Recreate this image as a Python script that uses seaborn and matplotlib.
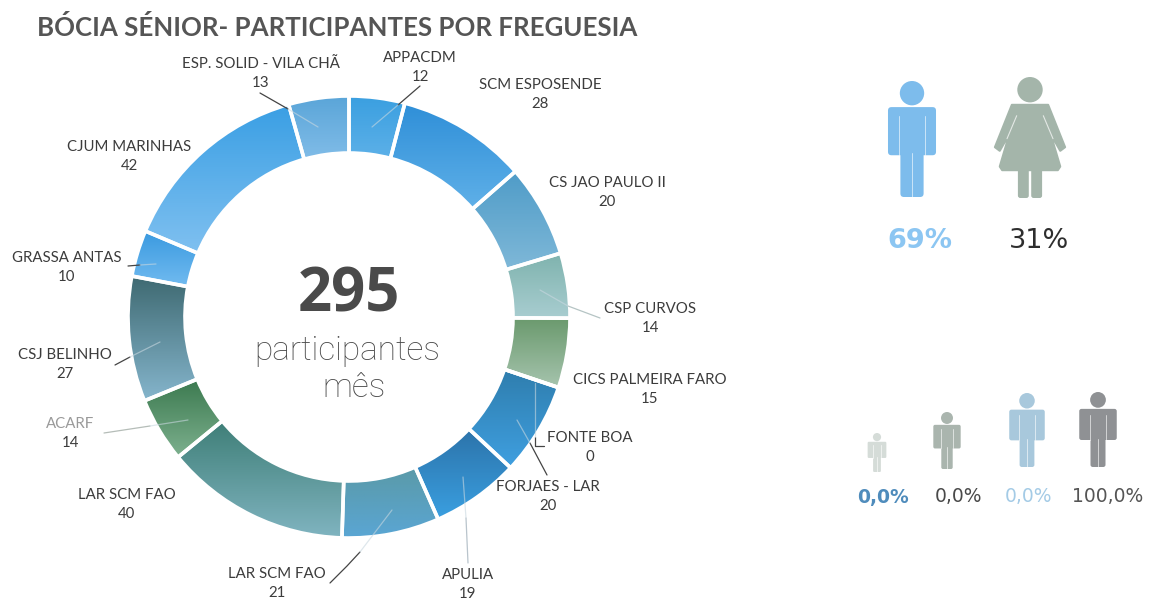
import matplotlib
matplotlib.use("Agg")
import matplotlib.pyplot as plt
from matplotlib.patches import Circle, FancyBboxPatch, Polygon
import numpy as np
import seaborn as sns

W, H = 1149, 599

freguesias = ["APPACDM", "SCM ESPOSENDE", "CS JAO PAULO II", "CSP CURVOS", "CICS PALMEIRA FARO",
              "FONTE BOA", "FORJAES - LAR", "APULIA", "LAR SCM FAO", "LAR SCM FAO",
              "ACARF", "CSJ BELINHO", "GRASSA ANTAS", "CJUM MARINHAS", "ESP. SOLID - VILA CHÃ"]
participantes = [12, 28, 20, 14, 15, 0, 20, 19, 21, 40, 14, 27, 10, 42, 13]
cor_topo = ["#3a9fe0", "#2f8fd8", "#4f9cc8", "#7fb3ae", "#6b9a6e", "#2f7eae", "#2f7eae", "#2c73aa",
            "#5a9aa8", "#3f7f78", "#3c7a50", "#3f6a72", "#3a9ae0", "#3a9fe4", "#5aa5d8"]
cor_base = ["#5cb0e8", "#5fb0e8", "#7fb8d8", "#a8cdd0", "#a6c4ae", "#3f9fe0", "#3f9fe0", "#3a9fe0",
            "#5aa6d4", "#80b4c0", "#7db08e", "#85b5cc", "#72bbf0", "#7fc0f0", "#80bce8"]

genero_pct = ["69%", "31%"]
idade_pct = ["0,0%", "0,0%", "0,0%", "100,0%"]

sns.set_theme(style="white")
plt.rcParams["font.family"] = ["Lato", "DejaVu Sans"]

fig = plt.figure(figsize=(W / 100, H / 100), dpi=100)
ax = fig.add_axes([0, 0, 1, 1])


def py(y):
    return H - y


# donut, each wedge filled with a vertical gradient
wedges, _ = ax.pie(participantes, startangle=90, counterclock=False, center=(349, py(317)), radius=221,
                   wedgeprops=dict(width=57, edgecolor="white", linewidth=2.6))
for w, top, bottom in zip(wedges, cor_topo, cor_base):
    cmap = sns.blend_palette([top, bottom], 32, as_cmap=True)
    box = w.get_path().get_extents(w.get_patch_transform())
    im = ax.imshow(np.linspace(0, 1, 64).reshape(-1, 1), cmap=cmap, aspect="auto", zorder=2,
                   extent=[box.x0, box.x1, box.y0, box.y1], origin="upper")
    im.set_clip_path(w)
    w.set_facecolor("none")
    w.set_zorder(3)

ax.set_xlim(0, W)
ax.set_ylim(0, H)
ax.set_aspect("equal")
ax.axis("off")

# labels: position in reference pixels
label_pos = [(420, 58), (540, 85), (607, 183), (650, 309), (650, 380), (590, 438), (548, 487),
             (468, 575), (277, 574), (127, 495), (70, 424), (65, 355), (67, 258), (129, 147), (261, 64)]
for nome, val, (x, y) in zip(freguesias, participantes, label_pos):
    cor = "#9a9a9a" if nome == "ACARF" else "#3c3c3c"
    ax.text(x, py(y), nome, ha="center", va="center", fontsize=10.8, color=cor, zorder=6)
    ax.text(x, py(y + 19), str(val), ha="center", va="center", fontsize=10.8, color="#3c3c3c", zorder=6)

# leader lines: part over the ring is faded, part outside is dark
leaders = [
    ([(260, 93), (288, 109)], [(288, 109), (318, 127)], "#444444"),
    ([(420, 86), (398, 105)], [(398, 105), (372, 127)], "#444444"),
    ([(600, 318), (568, 306)], [(568, 306), (540, 290)], "#b5c4c4"),
    ([(544, 446), (535, 446), (535, 437)], [(535, 437), (535, 383)], "#444444"),
    ([(547, 475), (530, 443)], [(530, 443), (517, 420)], "#444444"),
    ([(468, 563), (466, 518)], [(466, 518), (463, 477)], "#b9c4cc"),
    ([(330, 583), (347, 566), (360, 552)], [(360, 552), (392, 510)], "#444444"),
    ([(104, 433), (150, 426)], [(150, 426), (188, 420)], "#b5bdb8"),
    ([(115, 365), (130, 357)], [(130, 357), (160, 342)], "#444444"),
    ([(128, 266), (140, 265)], [(140, 265), (156, 264)], "#444444"),
]
for fora, dentro, cor in leaders:
    ax.plot([p[0] for p in fora], [py(p[1]) for p in fora], color=cor, lw=0.9, zorder=5)
    ax.plot([p[0] for p in dentro], [py(p[1]) for p in dentro], color="#c9d8e0", lw=0.9, alpha=0.6, zorder=5)

# title and centre text
ax.text(37, py(28), "BÓCIA SÉNIOR- PARTICIPANTES POR FREGUESIA", ha="left", va="center",
        fontsize=18.6, fontweight="bold", color="#555555")
ax.text(349, py(296), str(sum(participantes)), ha="center", va="center", fontsize=43,
        fontweight="bold", color="#4a4a4a", zorder=6, family="Open Sans")
ax.text(347, py(351), "participantes", ha="center", va="center", fontsize=24, fontweight="light",
        color="#4a4a4a", zorder=6, family="Roboto")
ax.text(354, py(388), "mês", ha="center", va="center", fontsize=24, fontweight="light",
        color="#4a4a4a", zorder=6, family="Roboto")


def round_box(x0, y0, x1, y1, cor, rad):
    ax.add_patch(FancyBboxPatch((x0 + rad, py(y1) + rad), x1 - x0 - 2 * rad, y1 - y0 - 2 * rad,
                                boxstyle=f"round,pad={rad}", fc=cor, ec="none", zorder=4))


def homem(cx, top, bottom, cor, larg=0.207):
    h = bottom - top
    ax.add_patch(Circle((cx, py(top + 0.105 * h)), 0.105 * h, fc=cor, ec="none", zorder=4))
    round_box(cx - larg * h, top + 0.225 * h, cx + larg * h, top + 0.64 * h, cor, 0.03 * h)
    round_box(cx - 0.10 * h, top + 0.30 * h, cx + 0.10 * h, bottom, cor, 0.03 * h)
    # thin light gaps between arms, body and legs
    for dx in [-0.11, 0.11]:
        ax.plot([cx + dx * h] * 2, [py(top + 0.30 * h), py(top + 0.64 * h)], color="white", lw=0.7, alpha=0.6, zorder=5)
    ax.plot([cx, cx], [py(top + 0.62 * h), py(bottom)], color="white", lw=0.7, alpha=0.6, zorder=5)


def mulher(cx, top, bottom, cor):
    h = bottom - top
    ax.add_patch(Circle((cx, py(top + 0.105 * h)), 0.105 * h, fc=cor, ec="none", zorder=4))
    pts = [(-0.15, 0.23), (0.15, 0.23), (0.29, 0.58), (0.25, 0.61), (0.17, 0.47), (0.25, 0.74), (0.23, 0.77),
           (-0.23, 0.77), (-0.25, 0.74), (-0.17, 0.47), (-0.25, 0.61), (-0.29, 0.58)]
    ax.add_patch(Polygon([(cx + a * h, py(top + b * h)) for a, b in pts], closed=True, fc=cor, ec=cor,
                         lw=1.5, joinstyle="round", zorder=4))
    for s in [-1, 1]:
        ax.plot([cx + s * 0.11 * h, cx + s * 0.19 * h], [py(top + 0.32 * h), py(top + 0.51 * h)],
                color="white", lw=0.8, alpha=0.7, zorder=5)
    round_box(cx - 0.10 * h, top + 0.74 * h, cx - 0.01 * h, bottom, cor, 0.02 * h)
    round_box(cx + 0.01 * h, top + 0.74 * h, cx + 0.10 * h, bottom, cor, 0.02 * h)


homem(912, 81, 197, "#7dbcec")
mulher(1030, 77, 198, "#a4b5aa")
ax.text(920, py(241), genero_pct[0], ha="center", va="center", fontsize=19.5, fontweight="bold",
        color="#8cc6f2", family="DejaVu Sans")
ax.text(1039, py(241), genero_pct[1], ha="center", va="center", fontsize=19.5, color="#2e2e2e",
        family="DejaVu Sans")

homem(877, 433, 472, "#d5dcd8", larg=0.24)
homem(947, 412, 469, "#aab5ae", larg=0.24)
homem(1027, 393, 467, "#a8c8dc", larg=0.24)
homem(1098, 392, 467, "#8f9194", larg=0.25)
idade_x = [883, 958, 1029, 1108]
idade_cor = ["#4f8cbc", "#4a4a4a", "#a4cbe6", "#555555"]
idade_bold = ["bold", "normal", "normal", "normal"]
for x, txt, cor, peso in zip(idade_x, idade_pct, idade_cor, idade_bold):
    ax.text(x, py(497), txt, ha="center", va="center", fontsize=13.5, color=cor, fontweight=peso,
            family="DejaVu Sans")

fig.savefig("out.png", dpi=100)
